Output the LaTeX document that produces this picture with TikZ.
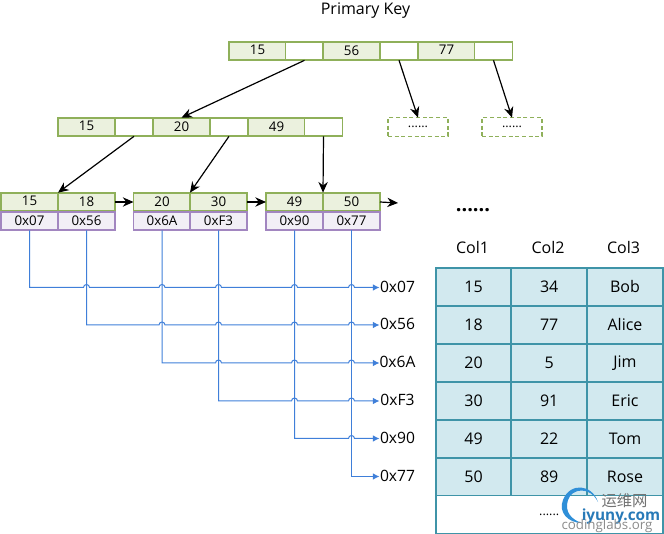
\documentclass[tikz,border=0pt]{standalone}
\usepackage{fontspec}
\setmainfont{Open Sans}
\newfontfamily\cjkfont{Noto Sans CJK SC}
\usetikzlibrary{arrows.meta}
\definecolor{keyborder}{HTML}{8FB05A}
\definecolor{keyfill}{HTML}{EBF1DE}
\definecolor{addrborder}{HTML}{A286C0}
\definecolor{addrfill}{HTML}{F2EFF6}
\definecolor{ptrblue}{HTML}{3F7FD9}
\definecolor{tabborder}{HTML}{3F94A8}
\definecolor{tabfill}{HTML}{D2E9EF}
\definecolor{logoblue}{HTML}{2F8FD8}
\newcommand{\hop}[2]{-- (#1-3,#2) arc[start angle=180,end angle=0,radius=2.25pt]}
\newcommand{\lowdots}{\raisebox{-1.5pt}{......}}
\begin{document}
\begin{tikzpicture}[
        x=0.75pt, y=-0.75pt,
        cell/.style={
            draw=keyborder,line width=1.3pt,minimum height=14pt,text depth=1.2pt,
            minimum width=#1,inner sep=0pt,outer sep=0pt,font=\fontsize{10}{11}\selectfont,
        },
        cell/.default=42.75pt,
        keycell/.style={cell,fill=keyfill},
        ptrcell/.style={cell=28.5pt,fill=white},
        addrcell/.style={cell,draw=addrborder,fill=addrfill},
        morebox/.style={
            draw=keyborder,line width=1.1pt,densely dashed,minimum width=45pt,minimum height=14pt,
            inner sep=0pt,outer sep=0pt,font=\fontsize{9.4}{10}\selectfont,
        },
        tabcell/.style={
            draw=tabborder,fill=tabfill,line width=1.3pt,minimum width=56.75pt,minimum height=28.4pt,
            inner sep=0pt,outer sep=0pt,font=\fontsize{12}{14}\selectfont,
        },
        headlabel/.style={font=\fontsize{12}{14}\selectfont},
        addrlabel/.style={minimum width=27pt,inner sep=0pt,outer sep=0pt,text depth=1.2pt,font=\fontsize{11.7}{14}\selectfont},
        link/.style={-{Stealth[length=8pt,width=7pt]},line width=0.9pt,black},
        ptrline/.style={-{Latex[length=5pt,width=5pt]},line width=0.75pt,ptrblue},
    ]
    \useasboundingbox (0,0) rectangle (664,534);

    % root
    \node[headlabel] (title) at (365.5,11) {Primary Key};
    \node[keycell] (R1) at (257.5,51) {15};
    \node[ptrcell] (R2) at (304.5,51) {};
    \node[keycell] (R3) at (351.5,51) {56};
    \node[ptrcell] (R4) at (399,51) {};
    \node[keycell] (R5) at (446.5,51) {77};
    \node[ptrcell] (R6) at (493.5,51) {};

    % second level
    \node[keycell] (N1) at (86.5,127) {15};
    \node[ptrcell] (N2) at (134,127) {};
    \node[keycell] (N3) at (181.5,127) {20};
    \node[ptrcell] (N4) at (229,127) {};
    \node[keycell] (N5) at (276.5,127) {49};
    \node[ptrcell] (N6) at (323.5,127) {};
    \node[morebox] (M1) at (418,127) {\lowdots};
    \node[morebox] (M2) at (512,127) {\lowdots};

    % leaves
    \node[keycell] (K1) at (29.5,202) {15};
    \node[keycell] (K2) at (86.5,202) {18};
    \node[keycell] (K3) at (162,202) {20};
    \node[keycell] (K4) at (218.5,202) {30};
    \node[keycell] (K5) at (294.5,202) {49};
    \node[keycell] (K6) at (351.5,202) {50};
    \node[addrcell] (P1) at (29.5,221) {0x07};
    \node[addrcell] (P2) at (86.5,221) {0x56};
    \node[addrcell] (P3) at (162,221) {0x6A};
    \node[addrcell] (P4) at (218.5,221) {0xF3};
    \node[addrcell] (P5) at (294.5,221) {0x90};
    \node[addrcell] (P6) at (351.5,221) {0x77};
    \coordinate (Kend) at (398,203);
    \node[font=\fontsize{15}{16}\bfseries\selectfont] (more) at (473,210) {......};

    \draw[link] (R2.south) -- (N3.north);
    \draw[link] (R4.south) -- (M1.north);
    \draw[link] (R6.south) -- (M2.north);
    \draw[link] (N2.south) -- (K2.north west);
    \draw[link] (N4.south) -- (K4.north west);
    \draw[link] (N6.south) -- (K6.north west);
    \draw[link] (K2.east) -- (K3.west);
    \draw[link] (K4.east) -- (K5.west);
    \draw[link] (K6.east) -- (Kend);

    % addresses
    \node[addrlabel] (A1) at (397.5,287.5) {0x07};
    \node[addrlabel] (A2) at (397.5,325) {0x56};
    \node[addrlabel] (A3) at (397.5,363) {0x6A};
    \node[addrlabel] (A4) at (397.5,401) {0xF3};
    \node[addrlabel] (A5) at (397.5,438.5) {0x90};
    \node[addrlabel] (A6) at (397.5,476.5) {0x77};
    \coordinate (B1) at (P1.south |- A1.west);
    \coordinate (B2) at (P2.south |- A2.west);
    \coordinate (B3) at (P3.south |- A3.west);
    \coordinate (B4) at (P4.south |- A4.west);
    \coordinate (B5) at (P5.south |- A5.west);
    \coordinate (B6) at (P6.south |- A6.west);
    \draw[ptrline] (P1.south) -- (B1) \hop{86.5}{287.5} \hop{162}{287.5} \hop{218.5}{287.5} \hop{294.5}{287.5} \hop{351.5}{287.5} -- (A1.west);
    \draw[ptrline] (P2.south) -- (B2) \hop{162}{325} \hop{218.5}{325} \hop{294.5}{325} \hop{351.5}{325} -- (A2.west);
    \draw[ptrline] (P3.south) -- (B3) \hop{218.5}{363} \hop{294.5}{363} \hop{351.5}{363} -- (A3.west);
    \draw[ptrline] (P4.south) -- (B4) \hop{294.5}{401} \hop{351.5}{401} -- (A4.west);
    \draw[ptrline] (P5.south) -- (B5) \hop{351.5}{438.5} -- (A5.west);
    \draw[ptrline] (P6.south) -- (B6) -- (A6.west);

    % table
    \node[headlabel] (C1) at (472.5,248) {Col1};
    \node[headlabel] (C2) at (548,248) {Col2};
    \node[headlabel] (C3) at (623.5,248) {Col3};
    \node[tabcell] (T11) at (473.5,287) {15};
    \node[tabcell] (T12) at (549.2,287) {34};
    \node[tabcell] (T13) at (625,287) {Bob};
    \node[tabcell] (T21) at (473.5,325) {18};
    \node[tabcell] (T22) at (549.2,325) {77};
    \node[tabcell] (T23) at (625,325) {Alice};
    \node[tabcell] (T31) at (473.5,363) {20};
    \node[tabcell] (T32) at (549.2,363) {5};
    \node[tabcell] (T33) at (625,363) {Jim};
    \node[tabcell] (T41) at (473.5,401) {30};
    \node[tabcell] (T42) at (549.2,401) {91};
    \node[tabcell] (T43) at (625,401) {Eric};
    \node[tabcell] (T51) at (473.5,439) {49};
    \node[tabcell] (T52) at (549.2,439) {22};
    \node[tabcell] (T53) at (625,439) {Tom};
    \node[tabcell] (T61) at (473.5,477) {50};
    \node[tabcell] (T62) at (549.2,477) {89};
    \node[tabcell] (T63) at (625,477) {Rose};
    \node[tabcell,fill=white,minimum width=170.25pt,font=\fontsize{9.4}{10}\selectfont] (T7) at (549.2,514.5) {\lowdots};

    % watermark
    \fill[logoblue] (598,502) .. controls (592,484) and (570,482) .. (563,500) .. controls (558,512) and (568,523) .. (582,523) .. controls (572,520) and (564,512) .. (568,500) .. controls (572,488) and (590,486) .. (598,502) -- cycle;
    \node[font=\cjkfont\fontsize{11.5}{12}\selectfont,text=black!55] (logocn) at (624.5,501) {运维网};
    \node[font=\fontsize{11.5}{12}\bfseries\selectfont,text=logoblue!85!black] (logourl) at (621,517) {iyuny.com};
    \node[font=\fontsize{10}{12}\selectfont,text=black!45] (logosrc) at (607,526) {codinglabs.org};
\end{tikzpicture}
\end{document}
